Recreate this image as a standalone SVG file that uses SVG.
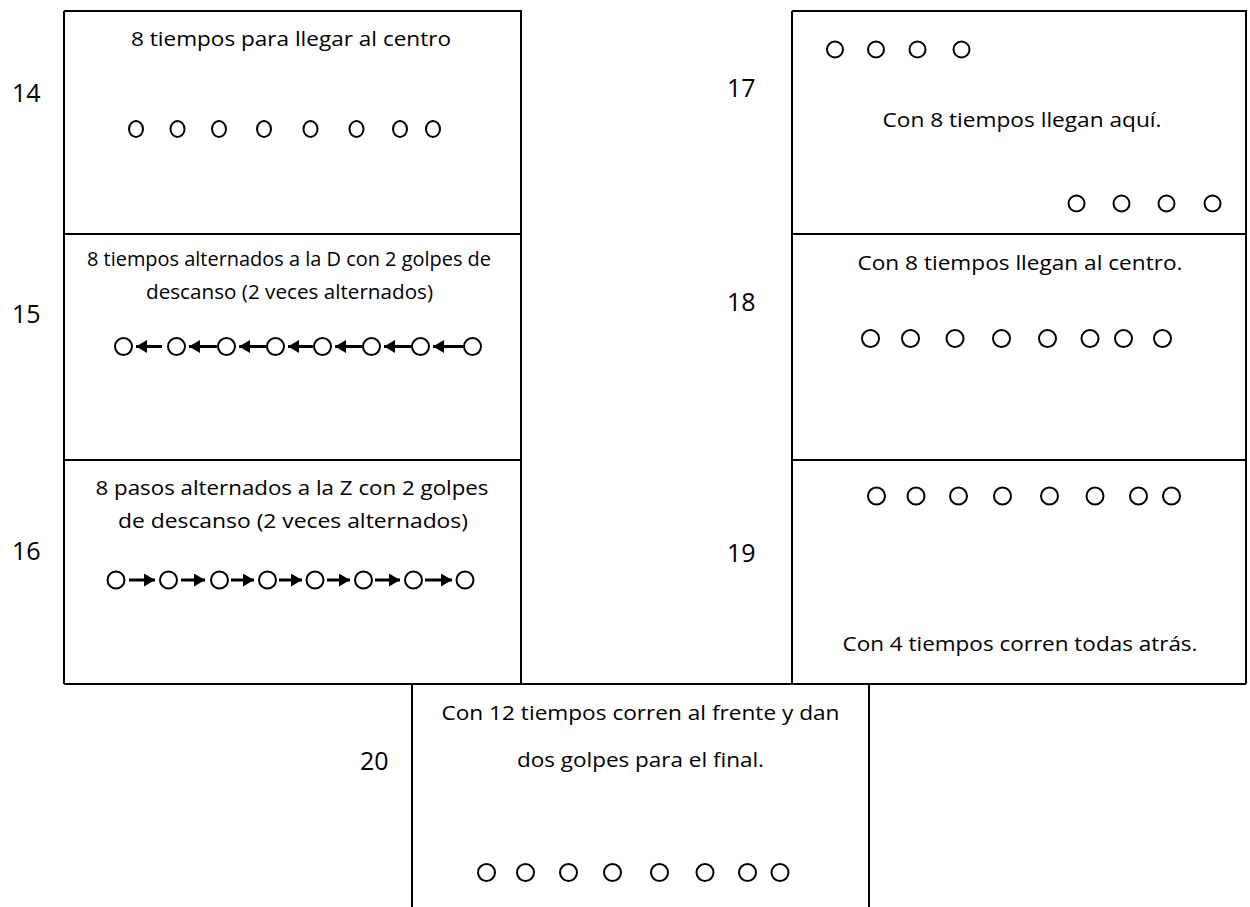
<svg xmlns="http://www.w3.org/2000/svg" width="1250" height="907" viewBox="0 0 1250 907">
<style>
.bg{fill:#fff}
.frame{fill:none;stroke:#000;stroke-width:2}
.t{font-family:"Open Sans","Noto Sans","Liberation Sans",sans-serif;font-size:20.5px;fill:#000;text-anchor:middle}
.n{font-family:"Open Sans","Noto Sans","Liberation Sans",sans-serif;font-size:25px;fill:#000}
.c{fill:#fff;stroke:#000;stroke-width:2}
.a{stroke:#000;stroke-width:3;fill:none}
</style>
<defs>
<marker id="ah" markerUnits="userSpaceOnUse" markerWidth="12" markerHeight="14" refX="11" refY="6.5" orient="auto">
<path d="M0,0 L11,6.5 L0,13 z" fill="#000"/>
</marker>
</defs>
<rect class="bg" x="0" y="0" width="1250" height="907"/>

<g id="frames">
<path class="frame" d="M64,11 H521 V684 M64,11 V684 M64,234 H521 M64,460 H521"/>
<path class="frame" d="M792,11 H1246 V684 M792,11 V684 M792,234 H1246 M792,460 H1246"/>
<path class="frame" d="M64,684 H1246"/>
<path class="frame" d="M412,684 V907 M869,684 V907"/>
</g>

<g id="labels">
<text class="n" x="12" y="102">14</text>
<text class="n" x="12" y="323">15</text>
<text class="n" x="12" y="560">16</text>
<text class="n" x="727" y="97">17</text>
<text class="n" x="727" y="311">18</text>
<text class="n" x="727" y="562">19</text>
<text class="n" x="360" y="770">20</text>
</g>

<g id="box14">
<text class="t" x="291" y="46" textLength="320" lengthAdjust="spacingAndGlyphs">8 tiempos para llegar al centro</text>
<ellipse class="c" cx="136" cy="129" rx="7" ry="8"/>
<ellipse class="c" cx="177.5" cy="129" rx="7" ry="8"/>
<ellipse class="c" cx="219" cy="129" rx="7" ry="8"/>
<ellipse class="c" cx="264" cy="129" rx="7" ry="8"/>
<ellipse class="c" cx="310.5" cy="129" rx="7" ry="8"/>
<ellipse class="c" cx="356.5" cy="129" rx="7" ry="8"/>
<ellipse class="c" cx="400" cy="129" rx="7" ry="8"/>
<ellipse class="c" cx="433" cy="129" rx="7" ry="8"/>
</g>

<g id="box15">
<text class="t" x="289" y="266" textLength="404" lengthAdjust="spacingAndGlyphs">8 tiempos alternados a la D con 2 golpes de</text>
<text class="t" x="289.5" y="299" textLength="287" lengthAdjust="spacingAndGlyphs">descanso (2 veces alternados)</text>
<circle class="c" cx="123.5" cy="346.5" r="8.5"/>
<circle class="c" cx="176.5" cy="346.5" r="8.5"/>
<circle class="c" cx="226.5" cy="346.5" r="8.5"/>
<circle class="c" cx="275.5" cy="346.5" r="8.5"/>
<circle class="c" cx="322.5" cy="346.5" r="8.5"/>
<circle class="c" cx="371.5" cy="346.5" r="8.5"/>
<circle class="c" cx="420.5" cy="346.5" r="8.5"/>
<circle class="c" cx="472.5" cy="346.5" r="8.5"/>
</g>

<g id="box16">
<text class="t" x="292" y="495" textLength="393" lengthAdjust="spacingAndGlyphs">8 pasos alternados a la Z con 2 golpes</text>
<text class="t" x="293" y="528" textLength="350" lengthAdjust="spacingAndGlyphs">de descanso (2 veces alternados)</text>
<circle class="c" cx="116" cy="580" r="8.5"/>
<circle class="c" cx="168.5" cy="580" r="8.5"/>
<circle class="c" cx="219.5" cy="580" r="8.5"/>
<circle class="c" cx="267.5" cy="580" r="8.5"/>
<circle class="c" cx="315" cy="580" r="8.5"/>
<circle class="c" cx="363.5" cy="580" r="8.5"/>
<circle class="c" cx="413.5" cy="580" r="8.5"/>
<circle class="c" cx="465" cy="580" r="8.5"/>
</g>

<g id="box17">
<circle class="c" cx="835" cy="49.5" r="8"/>
<circle class="c" cx="876" cy="49.5" r="8"/>
<circle class="c" cx="917.5" cy="49.5" r="8"/>
<circle class="c" cx="961.5" cy="49.5" r="8"/>
<text class="t" x="1022" y="127" textLength="279" lengthAdjust="spacingAndGlyphs">Con 8 tiempos llegan aquí.</text>
<circle class="c" cx="1076.5" cy="203.5" r="8"/>
<circle class="c" cx="1121.5" cy="203.5" r="8"/>
<circle class="c" cx="1166.5" cy="203.5" r="8"/>
<circle class="c" cx="1212.5" cy="203.5" r="8"/>
</g>

<g id="box18">
<text class="t" x="1020" y="270" textLength="325" lengthAdjust="spacingAndGlyphs">Con 8 tiempos llegan al centro.</text>
<circle class="c" cx="870.5" cy="338.5" r="8.5"/>
<circle class="c" cx="910.5" cy="338.5" r="8.5"/>
<circle class="c" cx="955" cy="338.5" r="8.5"/>
<circle class="c" cx="1001.5" cy="338.5" r="8.5"/>
<circle class="c" cx="1047.5" cy="338.5" r="8.5"/>
<circle class="c" cx="1090" cy="338.5" r="8.5"/>
<circle class="c" cx="1123.5" cy="338.5" r="8.5"/>
<circle class="c" cx="1162.5" cy="338.5" r="8.5"/>
</g>

<g id="box19">
<circle class="c" cx="876.5" cy="496" r="8.5"/>
<circle class="c" cx="916" cy="496" r="8.5"/>
<circle class="c" cx="958.5" cy="496" r="8.5"/>
<circle class="c" cx="1002.5" cy="496" r="8.5"/>
<circle class="c" cx="1049.5" cy="496" r="8.5"/>
<circle class="c" cx="1095" cy="496" r="8.5"/>
<circle class="c" cx="1138.5" cy="496" r="8.5"/>
<circle class="c" cx="1171.5" cy="496" r="8.5"/>
<text class="t" x="1020" y="651" textLength="355" lengthAdjust="spacingAndGlyphs">Con 4 tiempos corren todas atrás.</text>
</g>

<g id="box20">
<text class="t" x="640.5" y="720" textLength="398" lengthAdjust="spacingAndGlyphs">Con 12 tiempos corren al frente y dan</text>
<text class="t" x="640.5" y="767" textLength="247" lengthAdjust="spacingAndGlyphs">dos golpes para el final.</text>
<circle class="c" cx="486.5" cy="872.5" r="8.5"/>
<circle class="c" cx="525.5" cy="872.5" r="8.5"/>
<circle class="c" cx="568.5" cy="872.5" r="8.5"/>
<circle class="c" cx="612.5" cy="872.5" r="8.5"/>
<circle class="c" cx="659.5" cy="872.5" r="8.5"/>
<circle class="c" cx="705" cy="872.5" r="8.5"/>
<circle class="c" cx="747.5" cy="872.5" r="8.5"/>
<circle class="c" cx="780" cy="872.5" r="8.5"/>
</g>

<g id="connectors">
<line class="a" x1="162" y1="346.5" x2="136" y2="346.5" marker-end="url(#ah)"/>
<line class="a" x1="217" y1="346.5" x2="189" y2="346.5" marker-end="url(#ah)"/>
<line class="a" x1="266" y1="346.5" x2="239" y2="346.5" marker-end="url(#ah)"/>
<line class="a" x1="313" y1="346.5" x2="288" y2="346.5" marker-end="url(#ah)"/>
<line class="a" x1="362" y1="346.5" x2="335" y2="346.5" marker-end="url(#ah)"/>
<line class="a" x1="411" y1="346.5" x2="384" y2="346.5" marker-end="url(#ah)"/>
<line class="a" x1="463" y1="346.5" x2="433" y2="346.5" marker-end="url(#ah)"/>

<line class="a" x1="129" y1="580" x2="155" y2="580" marker-end="url(#ah)"/>
<line class="a" x1="181" y1="580" x2="205" y2="580" marker-end="url(#ah)"/>
<line class="a" x1="231" y1="580" x2="254" y2="580" marker-end="url(#ah)"/>
<line class="a" x1="279" y1="580" x2="302" y2="580" marker-end="url(#ah)"/>
<line class="a" x1="327" y1="580" x2="350" y2="580" marker-end="url(#ah)"/>
<line class="a" x1="375" y1="580" x2="400" y2="580" marker-end="url(#ah)"/>
<line class="a" x1="425" y1="580" x2="452" y2="580" marker-end="url(#ah)"/>
</g>
</svg>
